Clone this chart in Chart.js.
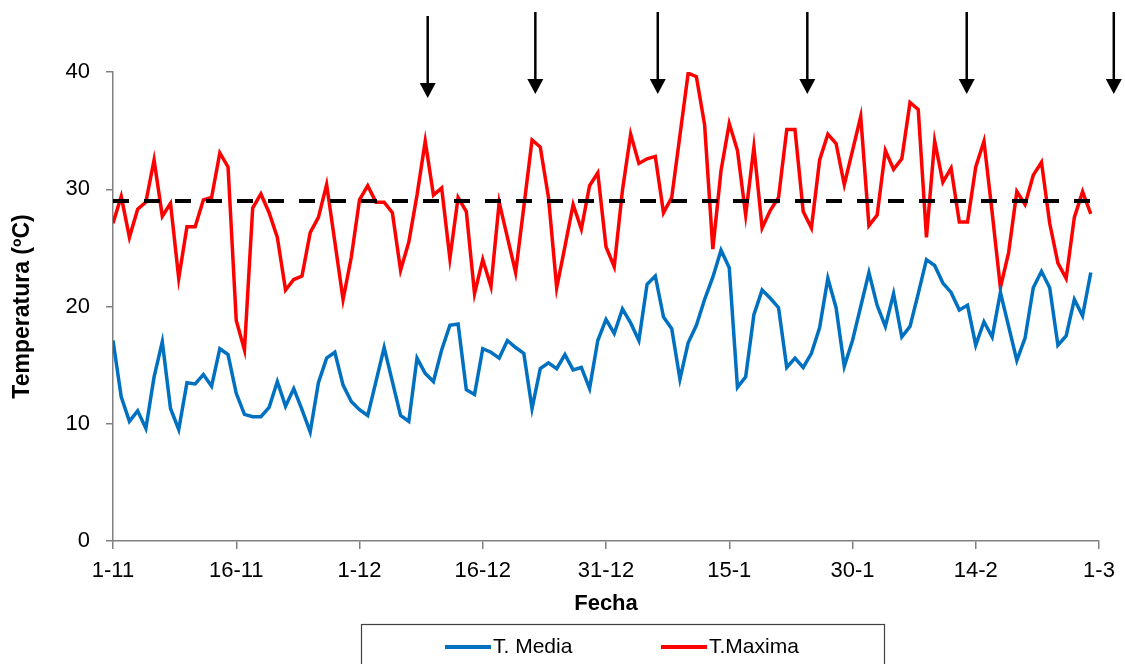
<!DOCTYPE html>
<html>
<head>
<meta charset="utf-8">
<script src="https://cdn.jsdelivr.net/npm/chart.js@4.4.0/dist/chart.umd.min.js"></script>
<style>
  html, body { margin: 0; padding: 0; background: #fff; }
  #wrap { width: 1125px; height: 664px; }
</style>
</head>
<body>
<div id="wrap"><canvas id="tempChart" width="1125" height="664"></canvas></div>
<script>
// Eje X: días desde el 1-11, etiquetas cada 15 días
const xTickLabels = ['1-11', '16-11', '1-12', '16-12', '31-12', '15-1', '30-1', '14-2', '1-3'];
const totalDays = 120;

// Temperatura media diaria (ºC)
const tMedia = [
  17.1, 12.3, 10.2, 11.1, 9.6, 14.0, 17.0, 11.3, 9.5, 13.5,
  13.4, 14.2, 13.2, 16.4, 15.9, 12.6, 10.8, 10.6, 10.6, 11.4,
  13.6, 11.5, 13.0, 11.2, 9.3, 13.5, 15.6, 16.1, 13.3, 11.9,
  11.2, 10.7, 13.6, 16.5, 13.6, 10.7, 10.2, 15.6, 14.3, 13.6,
  16.3, 18.4, 18.5, 12.9, 12.5, 16.4, 16.1, 15.6, 17.1, 16.5,
  16.0, 11.3, 14.7, 15.2, 14.7, 15.9, 14.6, 14.8, 13.0, 17.1,
  18.9, 17.7, 19.8, 18.6, 17.1, 21.9, 22.6, 19.1, 18.1, 13.8,
  16.9, 18.4, 20.6, 22.5, 24.8, 23.3, 13.1, 14.0, 19.3, 21.4,
  20.7, 19.9, 14.8, 15.6, 14.8, 16.0, 18.2, 22.4, 19.9, 14.9,
  17.1, 20.0, 22.9, 20.1, 18.3, 21.1, 17.4, 18.3, 21.1, 24.0,
  23.5, 22.0, 21.2, 19.7, 20.1, 16.7, 18.7, 17.4, 21.2, 18.3,
  15.4, 17.3, 21.6, 23.0, 21.6, 16.7, 17.5, 20.6, 19.2, 22.9
];

// Temperatura máxima diaria (ºC)
const tMaxima = [
  27.1, 29.4, 25.9, 28.3, 28.9, 32.5, 27.7, 28.8, 22.4, 26.8,
  26.8, 29.1, 29.3, 33.1, 31.9, 18.8, 16.3, 28.4, 29.6, 28.0,
  25.9, 21.4, 22.3, 22.6, 26.3, 27.6, 30.4, 25.5, 20.6, 24.2,
  29.1, 30.3, 28.9, 28.9, 28.0, 23.1, 25.5, 29.5, 34.1, 29.5,
  30.1, 24.1, 29.3, 28.1, 21.1, 24.0, 21.7, 28.9, 25.9, 22.9,
  28.5, 34.2, 33.6, 29.3, 21.6, 25.1, 28.7, 26.6, 30.3, 31.4,
  25.1, 23.4, 29.9, 34.7, 32.2, 32.6, 32.8, 28.0, 29.3, 34.6,
  39.9, 39.6, 35.5, 24.9, 31.6, 35.6, 33.3, 27.8, 33.6, 26.7,
  28.2, 29.3, 35.1, 35.1, 28.1, 26.7, 32.5, 34.7, 33.9, 30.4,
  33.3, 36.2, 26.9, 27.8, 33.3, 31.7, 32.6, 37.4, 36.8, 25.9,
  34.1, 30.6, 31.8, 27.2, 27.2, 31.9, 34.1, 28.0, 21.6, 24.6,
  29.8, 28.7, 31.2, 32.3, 27.1, 23.7, 22.4, 27.6, 29.8, 27.9
];

// Umbral de temperatura (línea discontinua)
const umbral = 29;

// Fechas marcadas con flechas (días desde el 1-11)
const arrowDays = [38.3, 51.4, 66.3, 84.5, 103.9, 121.8];

const FONT = "'Liberation Sans', Arial, sans-serif";
const AXIS_GRAY = '#808080';

const toPoints = arr => arr.map((v, i) => ({ x: i, y: v }));

// Flechas sobre el gráfico y leyenda con marco
const extrasPlugin = {
  id: 'extras',
  afterDraw(chart) {
    const { ctx, chartArea, scales } = chart;
    ctx.save();

    // flechas (la primera algo más baja, como en el original)
    ctx.fillStyle = '#000';
    ctx.strokeStyle = '#000';
    ctx.lineWidth = 2.5;
    arrowDays.forEach((d, k) => {
      const x = scales.x.getPixelForValue(d);
      const drop = k === 0 ? 4 : 0;
      const top = chartArea.top - 60 + drop;
      const tip = chartArea.top + 22 + drop;
      ctx.beginPath();
      ctx.moveTo(x, top);
      ctx.lineTo(x, tip - 12);
      ctx.stroke();
      ctx.beginPath();
      ctx.moveTo(x - 8, tip - 15);
      ctx.lineTo(x + 8, tip - 15);
      ctx.lineTo(x, tip);
      ctx.closePath();
      ctx.fill();
    });

    // leyenda
    ctx.strokeStyle = '#404040';
    ctx.lineWidth = 1.2;
    ctx.strokeRect(361.5, 624.5, 523, 60);
    const items = chart.data.datasets.filter(ds => ds.inLegend);
    const slots = [445, 661];
    ctx.font = '21px ' + FONT;
    ctx.textBaseline = 'middle';
    ctx.textAlign = 'left';
    items.forEach((ds, k) => {
      const x0 = slots[k];
      ctx.strokeStyle = ds.borderColor;
      ctx.lineWidth = 4;
      ctx.beginPath();
      ctx.moveTo(x0, 647);
      ctx.lineTo(x0 + 46, 647);
      ctx.stroke();
      ctx.fillStyle = '#000';
      ctx.fillText(ds.label, x0 + 48, 647);
    });
    ctx.restore();
  }
};

const ctx = document.getElementById('tempChart').getContext('2d');
new Chart(ctx, {
  type: 'line',
  data: {
    datasets: [
      {
        label: 'Umbral',
        data: [{ x: 0, y: umbral }, { x: totalDays, y: umbral }],
        borderColor: '#000',
        borderWidth: 4,
        borderDash: [16, 15],
        pointRadius: 0,
        inLegend: false
      },
      {
        label: 'T. Media',
        data: toPoints(tMedia),
        borderColor: '#0070C0',
        borderWidth: 3.5,
        pointRadius: 0,
        tension: 0,
        inLegend: true
      },
      {
        label: 'T.Maxima',
        data: toPoints(tMaxima),
        borderColor: '#FF0000',
        borderWidth: 3.5,
        pointRadius: 0,
        tension: 0,
        inLegend: true
      }
    ]
  },
  options: {
    responsive: false,
    animation: false,
    devicePixelRatio: 1,
    layout: { padding: { top: 72, right: 26, left: 0, bottom: 0 } },
    plugins: {
      legend: { display: false },
      tooltip: { enabled: false }
    },
    scales: {
      x: {
        type: 'linear',
        min: 0,
        max: totalDays,
        ticks: {
          stepSize: 15,
          autoSkip: false,
          maxRotation: 0,
          padding: 9,
          color: '#000',
          font: { family: FONT, size: 22 },
          callback: v => xTickLabels[Math.round(v / 15)]
        },
        grid: { drawOnChartArea: false, drawTicks: true, tickLength: 8, color: AXIS_GRAY, lineWidth: 1.5 },
        border: { color: AXIS_GRAY, width: 1.5 },
        title: {
          display: true,
          text: 'Fecha',
          color: '#000',
          font: { family: FONT, size: 22, weight: 'bold' },
          padding: { top: 0, bottom: 47 }
        },
        afterFit: s => { s.height = 123; }
      },
      y: {
        min: 0,
        max: 40,
        ticks: {
          stepSize: 10,
          padding: 16,
          color: '#000',
          font: { family: FONT, size: 22 }
        },
        grid: { drawOnChartArea: false, drawTicks: true, tickLength: 7, color: AXIS_GRAY, lineWidth: 1.5 },
        border: { color: AXIS_GRAY, width: 1.5 },
        title: {
          display: true,
          text: 'Temperatura (ºC)',
          color: '#000',
          font: { family: FONT, size: 23, weight: 'bold' },
          padding: { top: 9, bottom: 0 }
        },
        afterFit: s => { s.width = 113; }
      }
    }
  },
  plugins: [extrasPlugin]
});
</script>
</body>
</html>
